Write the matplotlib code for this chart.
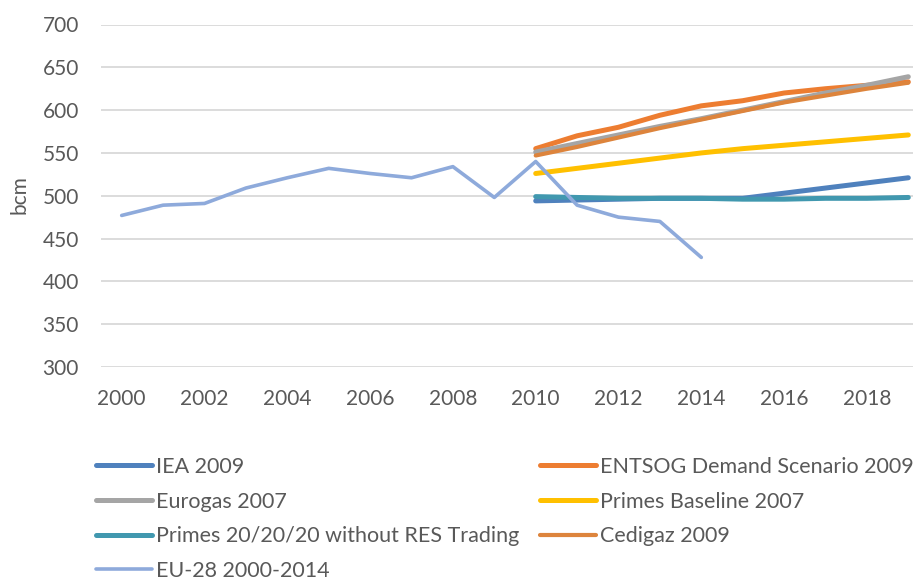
import matplotlib
matplotlib.use("Agg")
import matplotlib.pyplot as plt
from matplotlib.lines import Line2D

plt.rcParams["font.family"] = ["Lato", "DejaVu Sans"]

# historical consumption
hist_years = list(range(2000, 2015))
eu28 = [477, 489, 491, 509, 521, 532, 526, 521, 534, 498, 540, 489, 475, 470, 428]

# scenario projections
proj_years = list(range(2010, 2020))
iea_2009 = [494, 495, 496, 497, 497, 497, 503, 509, 515, 521]
entsog_2009 = [555, 570, 580, 594, 605, 611, 620, 625, 629, 633]
eurogas_2007 = [551, 561, 571, 581, 590, 600, 610, 620, 629, 639]
primes_base_2007 = [526, 532, 538, 544, 550, 555, 559, 563, 567, 571]
primes_202020 = [499, 498, 497, 497, 497, 496, 496, 497, 497, 498]
cedigaz_2009 = [547, 557, 568, 579, 589, 599, 609, 617, 625, 632]

yticks = list(range(300, 701, 50))
xticks = list(range(2000, 2019, 2))

series = [
    # label, x, y, colour, width
    ("IEA 2009", proj_years, iea_2009, "#4f81bd", 3.6),
    ("ENTSOG Demand Scenario 2009", proj_years, entsog_2009, "#ed7d31", 3.6),
    ("Eurogas 2007", proj_years, eurogas_2007, "#a5a5a5", 3.6),
    ("Primes Baseline 2007", proj_years, primes_base_2007, "#ffc000", 3.6),
    ("Primes 20/20/20 without RES Trading", proj_years, primes_202020, "#4198af", 3.6),
    ("Cedigaz 2009", proj_years, cedigaz_2009, "#dd843c", 3.0),
    ("EU-28 2000-2014", hist_years, eu28, "#8eaadb", 2.6),
]

W, H = 913, 580
fig = plt.figure(figsize=(W / 100, H / 100), dpi=100)
ax = fig.add_axes([101 / W, (H - 367) / H, (929 - 101) / W, (367 - 24.5) / H])

handles = {}
for label, xs, ys, color, lw in series:
    ax.plot(xs, ys, color=color, lw=lw, solid_capstyle="round",
            solid_joinstyle="round")
    handles[label] = Line2D([], [], color=color, lw=lw, solid_capstyle="round")

ax.set_xlim(1999.5, 2019.5)
ax.set_ylim(300, 700)
ax.set_yticks(yticks)
ax.set_xticks(xticks)
ax.grid(axis="y", color="#d9d9d9", lw=1.3)
ax.set_axisbelow(True)
for side in ["top", "right", "left", "bottom"]:
    ax.spines[side].set_visible(False)
ax.tick_params(length=0, labelsize=15, labelcolor="#595959")
ax.tick_params(axis="x", pad=16)
ax.tick_params(axis="y", pad=16)
ylab = ax.set_ylabel("bcm", fontsize=15, color="#595959")
ylab.set_verticalalignment("center")
ax.yaxis.set_label_coords((20 - 101) / 828, (367 - 195) / 342.5)

leg_kw = dict(loc="upper left", frameon=False, fontsize=15.5, handlelength=2.6,
              handletextpad=0.2, labelspacing=0.68, borderpad=0,
              borderaxespad=0, labelcolor="#595959")
col1 = ["IEA 2009", "Eurogas 2007", "Primes 20/20/20 without RES Trading",
        "EU-28 2000-2014"]
col2 = ["ENTSOG Demand Scenario 2009", "Primes Baseline 2007", "Cedigaz 2009"]
fig.legend([handles[k] for k in col1], col1,
           bbox_to_anchor=(96 / W, (H - 457) / H), **leg_kw)
fig.legend([handles[k] for k in col2], col2,
           bbox_to_anchor=(540 / W, (H - 457) / H), **leg_kw)

fig.savefig("out.png", dpi=100)
